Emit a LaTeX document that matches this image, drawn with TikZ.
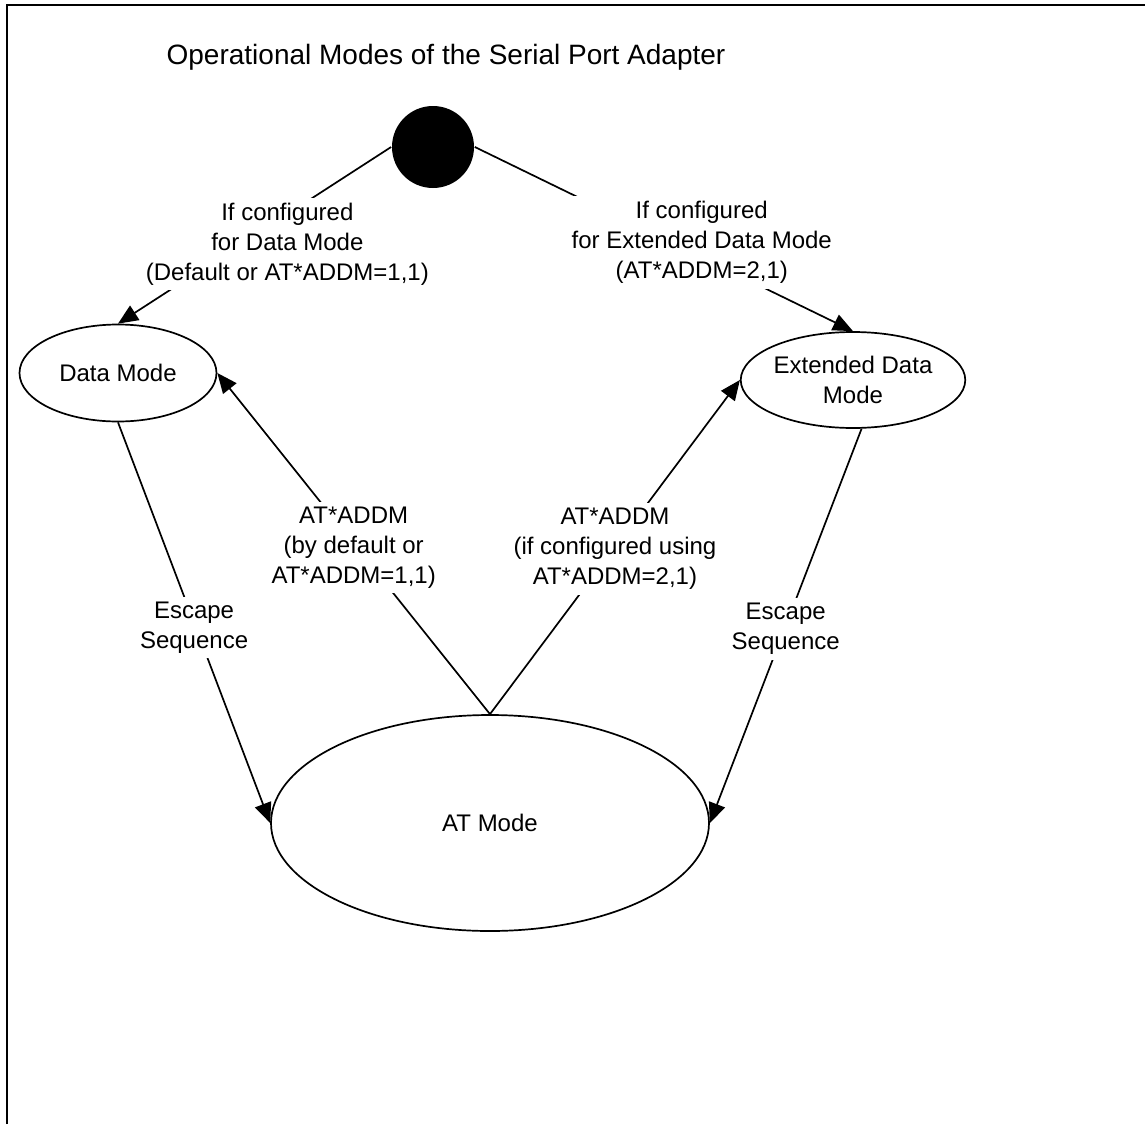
\documentclass[tikz,border=0pt]{standalone}
\usepackage{fontspec}
\setmainfont{Liberation Sans}
\usetikzlibrary{arrows.meta}
\usetikzlibrary{shapes.geometric}

\begin{document}
\begin{tikzpicture}[
            x = 1pt, y = -1pt, % pixel grid, y runs down
            > = {Triangle[length=20pt, width=17pt]}, % arrow head style
            line width = 1.7pt, % line style
            font = \fontsize{24}{30}\selectfont
        ]

        \tikzstyle{mode}=[
            draw,
            ellipse,
            fill = white,
            inner sep = 0pt,
            align = center
        ]
        \tikzstyle{lbl}=[fill = white, align = center, inner sep = 5pt]

        \useasboundingbox (0,0) rectangle (1145,1124);

        % frame
        \draw[line width = 2.5pt] (7,1124) -- (7,5) -- (1145,5);

        \node (title) at (446,57) {\fontsize{28}{30}\selectfont Operational Modes of the Serial Port Adapter};

        % states
        \node[circle, fill = black, minimum size = 82pt, inner sep = 0pt] (start) at (433,147) {};
        \node[mode, minimum width = 197pt, minimum height = 97pt] (data) at (118,373) {Data Mode};
        \node[mode, minimum width = 187pt, minimum height = 96pt] (ext) at (853,380) {Extended Data\\Mode};
        \node[mode, minimum width = 438pt, minimum height = 216pt] (at) at (490,823) {AT Mode};

        % from the initial state
        \path[->] (start.west) edge node[lbl, pos = .38, yshift = -30pt] {If configured\\for Data Mode\\(Default or AT*ADDM=1,1)} (data.north);
        \path[->] (start.east) edge node[lbl, pos = .6, yshift = 15pt] {If configured\\for Extended Data Mode\\(AT*ADDM=2,1)} (ext.north);

        % leaving AT mode
        \path[->] (at.north) edge node[lbl, yshift = -4pt] {AT*ADDM\\(by default or\\AT*ADDM=1,1)} (data.east);
        \path[->] (at.north) edge node[lbl, yshift = -2pt] {AT*ADDM\\(if configured using\\AT*ADDM=2,1)} (ext.west);

        % back to AT mode
        \path[->] (data.south) edge node[lbl, yshift = -5pt] {Escape\\Sequence} (at.west);
        \path[->] (ext.-80) edge node[lbl, yshift = -3pt] {Escape\\Sequence} (at.east);

\end{tikzpicture}
\end{document}
